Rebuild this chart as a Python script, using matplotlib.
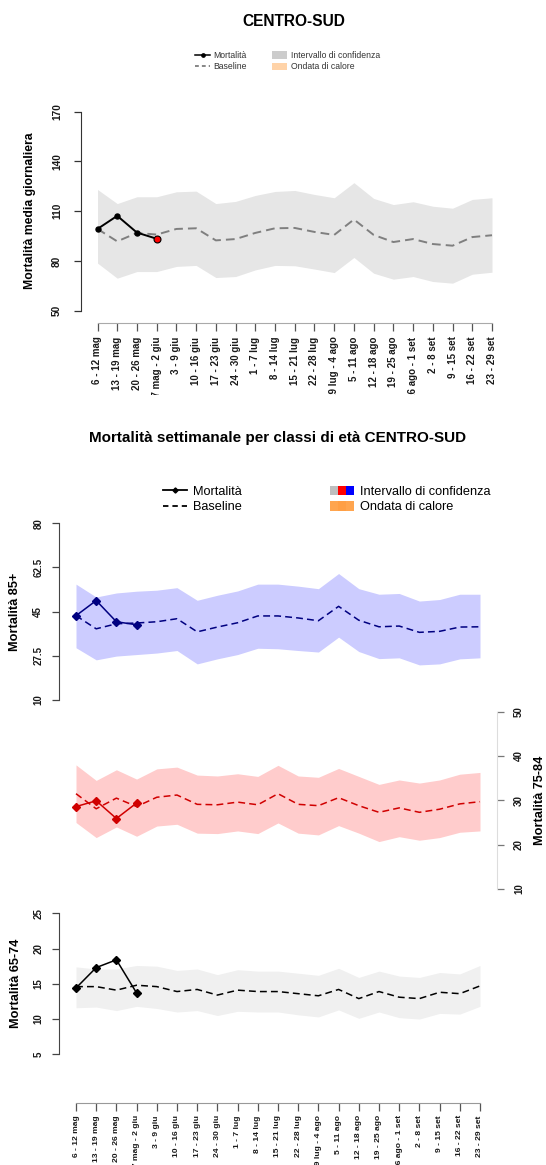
import matplotlib
matplotlib.use('Agg')
import matplotlib.pyplot as plt
from matplotlib.lines import Line2D
from matplotlib.patches import Patch
from matplotlib.legend_handler import HandlerTuple
from matplotlib.transforms import Bbox, TransformedBbox

plt.rcParams['font.family'] = ['Liberation Sans', 'DejaVu Sans']

# ---------------- data ----------------
weeks = ["6 - 12 mag", "13 - 19 mag", "20 - 26 mag", "27 mag - 2 giu", "3 - 9 giu",
         "10 - 16 giu", "17 - 23 giu", "24 - 30 giu", "1 - 7 lug", "8 - 14 lug",
         "15 - 21 lug", "22 - 28 lug", "29 lug - 4 ago", "5 - 11 ago", "12 - 18 ago",
         "19 - 25 ago", "26 ago - 1 set", "2 - 8 set", "9 - 15 set", "16 - 22 set",
         "23 - 29 set"]

# total, daily mean mortality
tot_mort = [99.3, 107.2, 97.1, 93.4]
tot_base = [99.3, 91.8, 96.9, 95.9, 99.3, 99.7, 92.4, 93.2, 96.9, 99.7, 99.9,
            97.5, 95.7, 105.0, 95.7, 91.4, 93.2, 90.2, 89.2, 94.4, 95.5]
tot_upper = [123.1, 114.6, 118.7, 118.7, 121.7, 122.1, 114.6, 115.9, 119.5, 121.9, 122.5,
             120.1, 118.1, 127.2, 117.7, 114.0, 115.7, 113.0, 111.8, 117.1, 118.1]
tot_lower = [78.7, 69.6, 73.6, 73.6, 76.7, 77.3, 70.0, 70.6, 74.6, 77.3, 77.1,
             75.1, 73.0, 82.1, 72.6, 69.0, 70.6, 67.6, 66.6, 72.0, 73.2]

# 85+
m85_mort = [43.4, 49.4, 41.0, 39.8]
m85_base = [43.4, 38.2, 40.2, 40.5, 41.0, 42.2, 37.0, 38.9, 40.6, 43.3, 43.3,
            42.5, 41.4, 47.1, 41.6, 39.0, 39.3, 36.8, 37.2, 38.9, 39.0]
m85_upper = [55.9, 50.8, 52.4, 53.1, 53.5, 54.5, 49.5, 51.5, 53.2, 55.9, 55.9,
             55.1, 54.1, 60.1, 54.1, 51.9, 52.2, 49.2, 49.8, 51.9, 51.9]
m85_lower = [30.7, 25.9, 27.4, 28.0, 28.6, 29.6, 24.3, 26.3, 28.0, 30.5, 30.3,
             29.6, 29.0, 34.9, 29.2, 26.4, 26.7, 23.9, 24.3, 26.3, 26.7]

# 75-84
m75_mort = [28.6, 29.9, 25.9, 29.4]
m75_base = [31.5, 28.1, 30.5, 28.6, 30.7, 31.2, 29.1, 29.0, 29.6, 29.0, 31.5,
            29.1, 28.8, 30.6, 28.8, 27.3, 28.3, 27.3, 28.0, 29.2, 29.7]
m75_upper = [38.0, 34.5, 36.9, 34.8, 37.1, 37.5, 35.7, 35.5, 36.0, 35.4, 37.9,
             35.5, 35.2, 37.2, 35.4, 33.6, 34.6, 33.9, 34.6, 35.9, 36.3]
m75_lower = [25.0, 21.6, 24.0, 21.9, 24.2, 24.6, 22.6, 22.5, 23.1, 22.5, 24.9,
             22.6, 22.2, 24.3, 22.6, 20.7, 21.8, 21.0, 21.6, 22.8, 23.1]

# 65-74
m65_mort = [14.4, 17.3, 18.4, 13.7]
m65_base = [14.6, 14.6, 14.1, 14.8, 14.6, 13.9, 14.2, 13.4, 14.1, 13.9, 13.9,
            13.6, 13.3, 14.2, 12.9, 13.9, 13.1, 12.9, 13.8, 13.6, 14.7]
m65_upper = [17.4, 17.1, 17.1, 17.6, 17.5, 16.9, 17.1, 16.3, 17.0, 16.8, 16.8,
             16.5, 16.2, 17.2, 15.9, 16.8, 16.1, 15.9, 16.6, 16.4, 17.6]
m65_lower = [11.6, 11.7, 11.2, 11.8, 11.5, 11.0, 11.2, 10.5, 11.1, 11.0, 11.0,
             10.6, 10.3, 11.3, 10.1, 11.0, 10.2, 10.0, 10.8, 10.7, 11.8]

yt_tot = [50, 80, 110, 140, 170]
yt_85 = [10, 27.5, 45, 62.5, 80]
yt_75 = [10, 20, 30, 40, 50]
yt_65 = [5, 10, 15, 20, 25]

# ---------------- layout helpers ----------------
W, H = 546, 1165
fig = plt.figure(figsize=(W / 100, H / 100), dpi=100)
x = list(range(len(weeks)))
xm = x[:len(tot_mort)]


def px_ax(box):
    l, r, t, b = box
    return fig.add_axes([l / W, 1 - b / H, (r - l) / W, (b - t) / H])


def fit(ax, box, x0, x1, ya, yb):
    l, r, t, b = box
    n = len(weeks) - 1
    sx = (x1 - x0) / n
    ax.set_xlim(-(x0 - l) / sx, n + (r - x1) / sx)
    sy = (yb[0] - ya[0]) / (ya[1] - yb[1])
    ax.set_ylim(yb[1] - (b - yb[0]) / sy, ya[1] + (ya[0] - t) / sy)


def ftext(xp, yp, s, **kw):
    fig.text(xp / W, 1 - yp / H, s, **kw)


def fmt(v):
    return f"{v:g}"


def bold_ticks(ax, which='both'):
    labels = []
    if which in ('both', 'x'):
        labels += ax.get_xticklabels()
    if which in ('both', 'y'):
        labels += ax.get_yticklabels()
    for t in labels:
        t.set_fontweight('bold')
        t.set_color('#1a1a1a')


# ---------------- top chart ----------------
ftext(294, 21.7, "CENTRO-SUD", ha='center', va='center', fontsize=11.2, fontweight='bold')

box1 = (80.7, 505, 100, 322.7)
ax1 = px_ax(box1)
fit(ax1, box1, 97.5, 492, (111.7, 170), (310.7, 50))
ax1.fill_between(x, tot_lower, tot_upper, color='#E6E6E6', lw=0, zorder=1)
ax1.plot(x, tot_base, color='#7F7F7F', lw=1.4, dashes=(4.5, 2.6), zorder=2)
ax1.plot(xm, tot_mort, color='black', lw=1.4, marker='o', ms=3.6, zorder=3)
ax1.plot(xm[-1:], tot_mort[-1:], 'o', mfc='red', mec='black', mew=0.8, ms=5, zorder=4)
for s in ['top', 'right']:
    ax1.spines[s].set_visible(False)
ax1.spines['left'].set_bounds(yt_tot[0], yt_tot[-1])
ax1.spines['left'].set_color('#333333')
ax1.spines['bottom'].set_bounds(x[0], x[-1])
ax1.spines['bottom'].set_color('#AAAAAA')
ax1.set_yticks(yt_tot)
ax1.set_yticklabels([fmt(v) for v in yt_tot], rotation=90, va='center')
ax1.set_xticks(x)
ax1.set_xticklabels(weeks, rotation=90)
ax1.tick_params(axis='y', length=5, width=0.9, pad=8.4, labelsize=7.3, color='#333333')
ax1.tick_params(axis='x', length=6, width=0.9, pad=4.0, labelsize=7.0, color='#555555')
bold_ticks(ax1)
clip = TransformedBbox(Bbox.from_extents(0, 1 - 395 / H, 1, 1), fig.transFigure)
for lbl in ax1.get_xticklabels():
    lbl.set_clip_box(clip)
    lbl.set_clip_on(True)
ftext(30.5, 211, "Mortalità media giornaliera", rotation=90, ha='center', va='center',
      fontsize=8.8, fontweight='bold')

h1 = [Line2D([], [], color='black', lw=1.1, marker='o', ms=2.4),
      Line2D([], [], color='#666666', lw=1.1, dashes=(2.5, 2.0)),
      Patch(facecolor='#CCCCCC', edgecolor='none'),
      Patch(facecolor='#FFD3A8', edgecolor='none')]
l1 = ["Mortalità", "Baseline", "Intervallo di confidenza", "Ondata di calore"]
leg1 = fig.legend(h1, l1, ncol=2, loc='center', bbox_to_anchor=(287.5 / W, 1 - 61 / H),
                  frameon=False, fontsize=6.2, handlelength=1.75, handletextpad=0.38,
                  columnspacing=2.95, labelspacing=0.25, borderpad=0, handleheight=0.9)
for t in leg1.get_texts():
    t.set_color('#333333')

# ---------------- bottom section ----------------
ftext(278, 438.3, "Mortalità settimanale per classi di età CENTRO-SUD", ha='center',
      va='center', fontsize=11, fontweight='bold')

h2 = [Line2D([], [], color='black', lw=1.3, marker='D', ms=2.6),
      Line2D([], [], color='black', lw=1.3, dashes=(3.0, 2.2)),
      (Patch(facecolor='#BEBEBE', edgecolor='none'), Patch(facecolor='#FF0000', edgecolor='none'),
       Patch(facecolor='#0000FF', edgecolor='none')),
      (Patch(facecolor='#FFA54F', edgecolor='none'), Patch(facecolor='#FF9F45', edgecolor='none'),
       Patch(facecolor='#FFA54F', edgecolor='none'))]
l2 = ["Mortalità", "Baseline", "Intervallo di confidenza", "Ondata di calore"]
fig.legend(h2, l2, ncol=2, loc='center', bbox_to_anchor=(326.5 / W, 1 - 499.5 / H),
           frameon=False, fontsize=9.2, handlelength=1.9, handletextpad=0.43,
           columnspacing=6.9, labelspacing=0.22, borderpad=0, handleheight=0.78,
           handler_map={tuple: HandlerTuple(ndivide=None, pad=0)})

dash2 = (4.5, 2.7)

# 85+
box2 = (59.3, 495, 515, 705)
ax2 = px_ax(box2)
fit(ax2, box2, 76, 480, (523.3, 80), (700, 10))
ax2.fill_between(x, m85_lower, m85_upper, color='#CCCCFF', lw=0, zorder=1)
ax2.plot(x, m85_base, color='#000080', lw=1.1, dashes=dash2, zorder=2)
ax2.plot(xm, m85_mort, color='#000080', lw=1.1, marker='D', ms=4.4, zorder=3)
for s in ['top', 'right', 'bottom']:
    ax2.spines[s].set_visible(False)
ax2.spines['left'].set_bounds(yt_85[0], yt_85[-1])
ax2.spines['left'].set_color('#444444')
ax2.set_yticks(yt_85)
ax2.set_yticklabels([fmt(v) for v in yt_85], rotation=90, va='center')
ax2.tick_params(axis='y', length=5, width=0.9, pad=6.5, labelsize=7, color='#444444')
ax2.tick_params(axis='x', bottom=False, labelbottom=False)
bold_ticks(ax2, 'y')
ftext(15.3, 612, "Mortalità 85+", rotation=90, ha='center', va='center',
      fontsize=9.2, fontweight='bold')

# 75-84
box3 = (59.3, 497.5, 705, 895)
ax3 = px_ax(box3)
fit(ax3, box3, 76, 480, (711.7, 50), (889, 10))
ax3.fill_between(x, m75_lower, m75_upper, color='#FFCCCC', lw=0, zorder=1)
ax3.plot(x, m75_base, color='#D00000', lw=1.1, dashes=dash2, zorder=2)
ax3.plot(xm, m75_mort, color='#D00000', lw=1.1, marker='D', ms=4.4, zorder=3)
for s in ['top', 'left', 'bottom']:
    ax3.spines[s].set_visible(False)
ax3.spines['right'].set_bounds(yt_75[0], yt_75[-1])
ax3.spines['right'].set_color('#DDDDDD')
ax3.yaxis.tick_right()
ax3.set_yticks(yt_75)
ax3.set_yticklabels([fmt(v) for v in yt_75], rotation=90, va='center')
ax3.tick_params(axis='y', length=5, width=0.9, pad=6.8, labelsize=7, color='#777777')
ax3.tick_params(axis='x', bottom=False, labelbottom=False)
bold_ticks(ax3, 'y')
ftext(540, 800, "Mortalità 75-84", rotation=90, ha='center', va='center',
      fontsize=9.2, fontweight='bold')

# 65-74
box4 = (59.3, 495, 905, 1103)
ax4 = px_ax(box4)
fit(ax4, box4, 76, 480, (913.3, 25), (1054.3, 5))
ax4.fill_between(x, m65_lower, m65_upper, color='#F0F0F0', lw=0, zorder=1)
ax4.plot(x, m65_base, color='black', lw=1.1, dashes=dash2, zorder=2)
ax4.plot(xm, m65_mort, color='black', lw=1.1, marker='D', ms=4.4, zorder=3)
for s in ['top', 'right']:
    ax4.spines[s].set_visible(False)
ax4.spines['left'].set_bounds(yt_65[0], yt_65[-1])
ax4.spines['left'].set_color('#444444')
ax4.spines['bottom'].set_bounds(x[0], x[-1])
ax4.spines['bottom'].set_color('#999999')
ax4.set_yticks(yt_65)
ax4.set_yticklabels([fmt(v) for v in yt_65], rotation=90, va='center')
ax4.set_xticks(x)
ax4.set_xticklabels(weeks, rotation=90)
ax4.tick_params(axis='y', length=5, width=0.9, pad=6.5, labelsize=7, color='#444444')
ax4.tick_params(axis='x', length=5.6, width=0.9, pad=3.2, labelsize=6.1, color='#555555')
bold_ticks(ax4)
ftext(16, 983, "Mortalità 65-74", rotation=90, ha='center', va='center',
      fontsize=9.2, fontweight='bold')

fig.savefig('out.png', dpi=100)
